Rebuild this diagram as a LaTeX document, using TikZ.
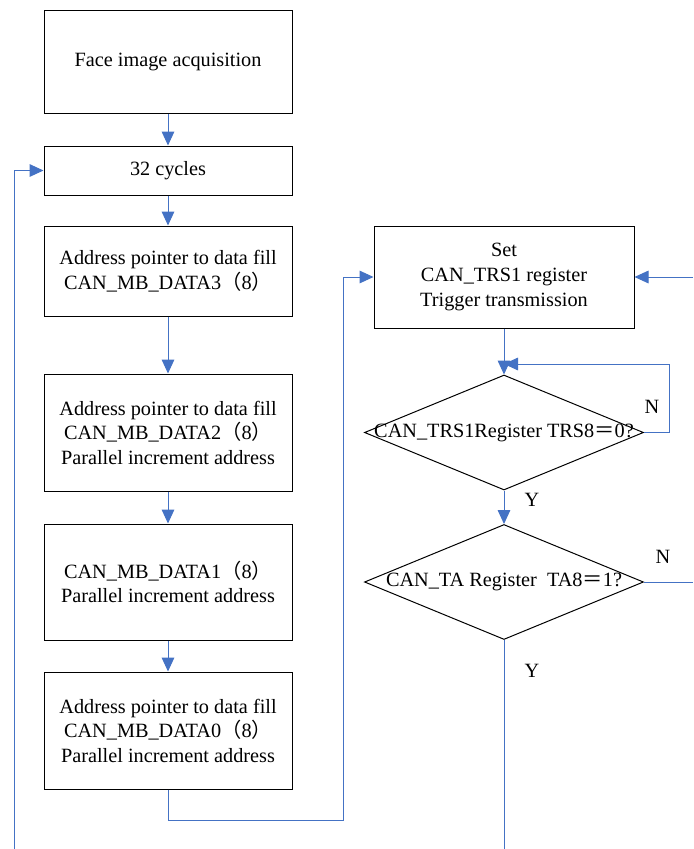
\documentclass[tikz,border=0pt]{standalone}
\usepackage{fontspec}
\setmainfont{Liberation Serif}
\newfontfamily\cjk{Noto Sans CJK SC}
\usetikzlibrary{arrows.meta,shapes.geometric}
\definecolor{lineblue}{RGB}{68,114,196}
\newcommand{\lpar}{{\cjk （}}
\newcommand{\rpar}{{\cjk ）}}
\newcommand{\feq}{{\cjk ＝}}

\begin{document}
\begin{tikzpicture}[x=0.75pt,y=-0.75pt,font=\fontsize{15.2}{18.4}\selectfont,
    box/.style={draw,line width=0.75pt,minimum width=186pt,align=center,inner sep=2pt},
    dec/.style={draw,line width=0.75pt,diamond,minimum width=209.25pt,minimum height=86.25pt,inner sep=0pt},
    flow/.style={draw=lineblue,line width=0.75pt,-{Triangle[length=10.5pt,width=9.5pt]}},
    wire/.style={draw=lineblue,line width=0.75pt}]
    \useasboundingbox (0,0) rectangle (693,849);

    % left column
    \node[box,minimum height=76.5pt] (acq) at (168,62) {Face image acquisition};
    \node[box,minimum height=36.75pt] (cyc) at (168,170.5) {32 cycles};
    \node[box,minimum height=67.5pt] (d3) at (168,271) {Address pointer to data fill\\CAN\_MB\_DATA3\lpar8\rpar};
    \node[box,minimum height=87.75pt] (d2) at (168,432.5) {Address pointer to data fill\\CAN\_MB\_DATA2\lpar8\rpar\\Parallel increment address};
    \node[box,minimum height=87pt] (d1) at (168,582) {CAN\_MB\_DATA1\lpar8\rpar\\Parallel increment address};
    \node[box,minimum height=87.75pt] (d0) at (168,730.5) {Address pointer to data fill\\CAN\_MB\_DATA0\lpar8\rpar\\Parallel increment address};

    % right column
    \node[box,minimum width=195pt,minimum height=76.5pt] (trs) at (504,277) {Set\\CAN\_TRS1 register\\Trigger transmission};
    \node[dec] (q1) at (504,432.5) {\makebox[0pt]{CAN\_TRS1Register TRS8\feq0?}};
    \node[dec] (q2) at (504,582) {\makebox[0pt]{CAN\_TA Register\ \ TA8\feq1?}};

    \node (n1) at (652,407) {N};
    \node (y1) at (532,500) {Y};
    \node (n2) at (663,557) {N};
    \node (y2) at (532,671) {Y};

    \coordinate (low) at (343,820);
    \coordinate (back) at (14,849);
    \coordinate (merge) at (504,364);
    \coordinate (loop) at (669,364);
    \coordinate (retn) at (693,277);
    \coordinate (outn) at (693,582);
    \coordinate (outy) at (504,849);

    \draw[flow] (acq) -- (cyc);
    \draw[flow] (cyc) -- (d3);
    \draw[flow] (d3) -- (d2);
    \draw[flow] (d2) -- (d1);
    \draw[flow] (d1) -- (d0);
    \draw[flow] (d0.south) |- (low) |- (trs.west);
    \draw[flow] (back) |- (cyc.west);
    \draw[flow] (retn) -- (trs.east);
    \draw[flow] (trs.south) -- (q1.north);
    \draw[flow] (q1.east) -| (loop) -- (merge);
    \draw[flow] (q1.south) -- (q2.north);
    \draw[wire] (q2.east) -- (outn);
    \draw[wire] (q2.south) -- (outy);
\end{tikzpicture}
\end{document}
